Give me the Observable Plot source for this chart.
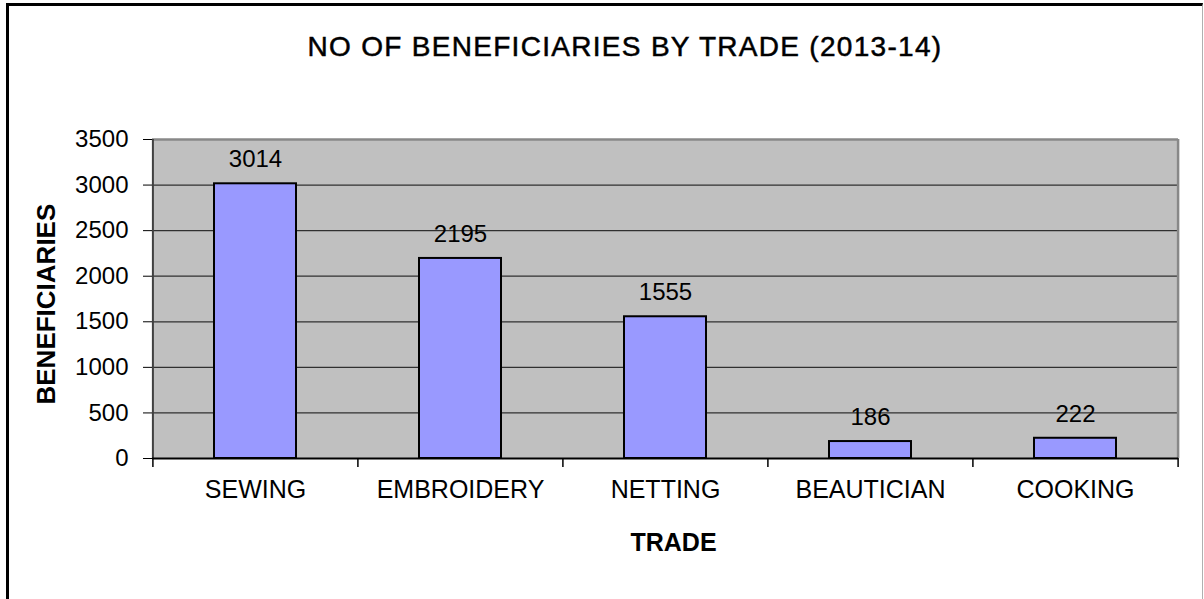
<!DOCTYPE html>
<html><head><meta charset="utf-8">
<script src="https://cdn.jsdelivr.net/npm/d3@7"></script>
<script src="https://cdn.jsdelivr.net/npm/@observablehq/plot@0.6"></script>
<style>
html,body{margin:0;padding:0;background:#fff;overflow:hidden;}
#wrap{position:relative;width:1204px;height:599px;font-family:"Liberation Sans",Arial,sans-serif;}
#border{position:absolute;left:6px;top:3px;width:1197px;height:620px;border-left:3px solid #000;border-top:3px solid #000;border-right:1px solid #b0b0b0;box-sizing:border-box;pointer-events:none;}
#title{height:100px;box-sizing:border-box;padding-top:33px;padding-left:46px;text-align:center;font-size:28px;line-height:28px;letter-spacing:1.3px;color:#000;white-space:nowrap;-webkit-text-stroke:0.5px #000;}
#chart{line-height:0;}
</style></head>
<body><div id="wrap"><div id="title"></div><div id="chart"></div><div id="border"></div></div>
<script>
const chartTitle = "NO OF BENEFICIARIES BY TRADE (2013-14)";
const trades = ["SEWING", "EMBROIDERY", "NETTING", "BEAUTICIAN", "COOKING"];
const beneficiaries = [3014, 2195, 1555, 186, 222];
const yTicks = [0, 500, 1000, 1500, 2000, 2500, 3000, 3500];
const xLabel = "TRADE";
const yLabel = "BENEFICIARIES";

document.getElementById("title").textContent = chartTitle;

const W = 1204, H = 499, mL = 152, mR = 26, mT = 39, mB = 141;
const step = (W - mL - mR) / trades.length;
const data = trades.map((t, i) => ({trade: t, value: beneficiaries[i]}));
const font = "'Liberation Sans', Arial, sans-serif";

const chart = Plot.plot({
  width: W, height: H,
  marginLeft: mL, marginRight: mR, marginTop: mT, marginBottom: mB,
  style: {fontFamily: font, fontSize: "24px", color: "#000", background: "transparent", overflow: "visible"},
  x: {domain: trades, paddingInner: 0.6, paddingOuter: 0.3, axis: null},
  y: {domain: [yTicks[0], yTicks[yTicks.length - 1]], axis: null},
  marks: [
    Plot.frame({fill: "#C0C0C0"}),
    Plot.ruleY(yTicks.slice(1, -1), {stroke: "#303030", strokeWidth: 1.3}),
    Plot.barY(data, {x: "trade", y: "value", fill: "#9999FF", stroke: "#000", strokeWidth: 2}),
    Plot.ruleY([yTicks[yTicks.length - 1]], {stroke: "#888", strokeWidth: 2.5}),
    Plot.ruleX([trades[trades.length - 1]], {dx: step / 2, stroke: "#888", strokeWidth: 2.5}),
    Plot.ruleX([trades[0]], {dx: -step / 2, stroke: "#404040", strokeWidth: 2}),
    Plot.ruleY([0], {stroke: "#000", strokeWidth: 2}),
    Plot.ruleX(trades, {x: d => d, y1: 0, y2: 0, dx: -step / 2, insetBottom: -9, stroke: "#000", strokeWidth: 1.5}),
    Plot.ruleX([trades[trades.length - 1]], {x: d => d, y1: 0, y2: 0, dx: step / 2, insetBottom: -9, stroke: "#000", strokeWidth: 1.5}),
    Plot.axisY({ticks: yTicks, tickSize: 9, tickPadding: 15, tickFormat: d => String(d), label: null, fontSize: 24, stroke: "#000"}),
    Plot.axisX({tickSize: 0, tickPadding: 22, label: null, fontSize: 25}),
    Plot.text(data, {x: "trade", y: "value", text: d => String(d.value), dy: -24, fontSize: 24, lineAnchor: "middle", fill: "#000"}),
    Plot.text([yLabel], {text: d => d, frameAnchor: "left", dx: -106, dy: 105.5, rotate: -90, fontSize: 26, fontWeight: "bold", lineAnchor: "middle", fill: "#000"}),
    Plot.text([xLabel], {text: d => d, frameAnchor: "bottom", dx: 8, dy: 84, fontSize: 25, fontWeight: "bold", lineAnchor: "middle", fill: "#000"})
  ]
});
document.getElementById("chart").appendChild(chart);
</script>
</body></html>
